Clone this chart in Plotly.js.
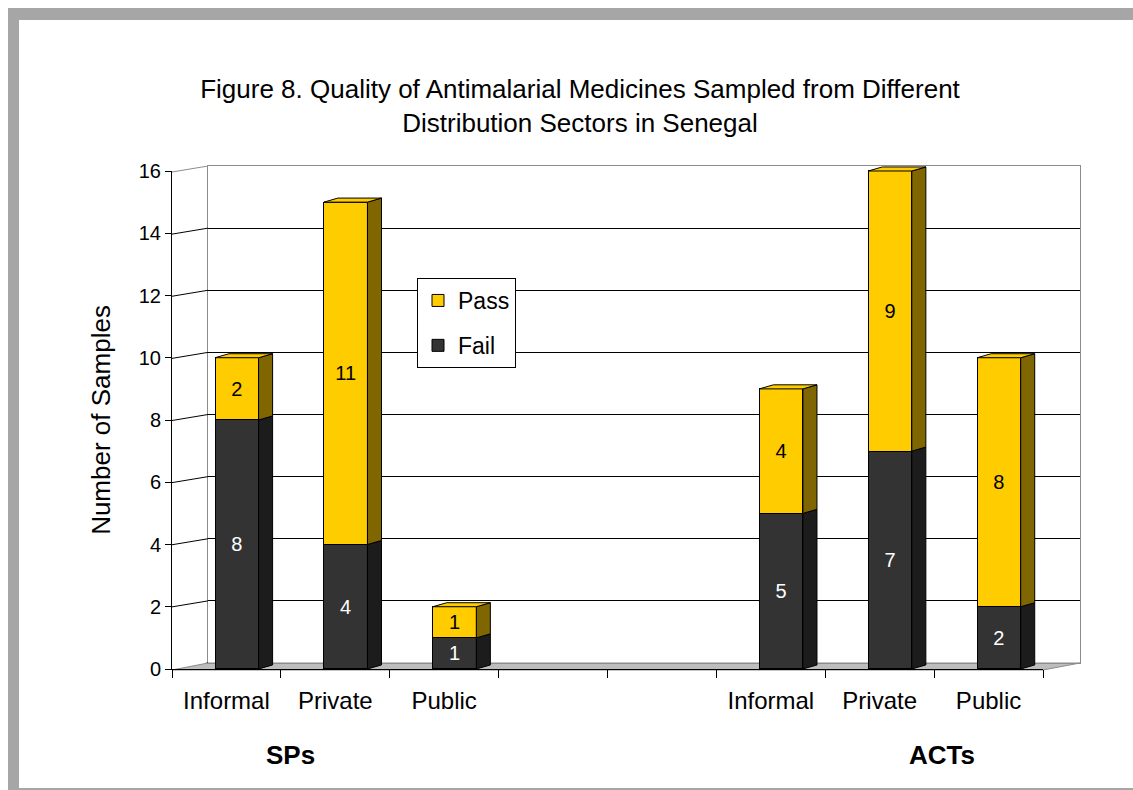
<!DOCTYPE html>
<html>
<head>
<meta charset="utf-8">
<script src="https://cdn.plot.ly/plotly-3.0.1.min.js"></script>
<style>html,body{margin:0;padding:0;background:#fff;}#chart{width:1133px;height:790px;}</style>
</head>
<body>
<div id="chart"></div>
<script>
// ---- data ----
const categories = ['Informal', 'Private', 'Public', '', '', 'Informal', 'Private', 'Public'];
const barPositions = [0, 1, 2, 5, 6, 7];
const failValues = [8, 4, 1, 5, 7, 2];
const passValues = [2, 11, 1, 4, 9, 8];
const yTickValues = [0, 2, 4, 6, 8, 10, 12, 14, 16];
const groupLabels = ['SPs', 'ACTs'];

// ---- geometry / style ----
const W = 1133, H = 790;
const fx = px => px / W;
const fy = py => 1 - py / H;
const FONT = 'Liberation Sans, Arial, sans-serif';
const YELLOW = '#ffcc00', YELLOW_SIDE = '#7f6600';
const DARK = '#333333', DARK_SIDE = '#1c1c1c';
const BAR_W = 0.4, BAR_OFF = -0.105, DX = 0.129, DY = 0.13;
const FRONT_BOTTOM = 669, FRONT_TOP = 171;             // px for 0 and 16 on the front axis
const UNIT = (FRONT_BOTTOM - FRONT_TOP) / 16;
const BACK_BOTTOM = 663, BACK_TOP = 166;

function sidePolys(bases, tops) {
  const xs = [], ys = [];
  barPositions.forEach((p, i) => {
    const xL = p + BAR_OFF + BAR_W, xR = xL + DX;
    const b = bases[i], t = tops[i];
    xs.push(xL, xR, xR, xL, xL, null);
    ys.push(b, b + DY, t + DY, t, b, null);
  });
  return {xs, ys};
}
function topPolys(tops) {
  const xs = [], ys = [];
  barPositions.forEach((p, i) => {
    const xF = p + BAR_OFF, xL = xF + BAR_W, t = tops[i];
    xs.push(xF, xF + DX, xL + DX, xL, xF, null);
    ys.push(t, t + DY, t + DY, t, t, null);
  });
  return {xs, ys};
}
const zeros = failValues.map(() => 0);
const totals = failValues.map((f, i) => f + passValues[i]);
const failSide = sidePolys(zeros, failValues);
const passSide = sidePolys(failValues, totals);
const topFace = topPolys(totals);

const traces = [
  // keep back-wall subplot alive
  {type: 'scatter', x: [], y: [], xaxis: 'x', yaxis: 'y', showlegend: false, hoverinfo: 'skip'},
  // front axis subplot
  {type: 'scatter', x: [], y: [], xaxis: 'x2', yaxis: 'y2', showlegend: false, hoverinfo: 'skip'},
  {
    type: 'bar', name: 'Fail', legendgroup: 'fail', legendrank: 2, x: barPositions, y: failValues,
    xaxis: 'x2', yaxis: 'y4', width: BAR_W, offset: BAR_OFF,
    marker: {color: DARK, line: {color: '#000', width: 1}},
    text: failValues.map(String), textposition: 'inside', insidetextanchor: 'middle',
    textfont: {color: '#ffffff', size: 20, family: FONT}, constraintext: 'none'
  },
  {
    type: 'bar', name: 'Pass', legendgroup: 'pass', legendrank: 1, x: barPositions, y: passValues,
    xaxis: 'x2', yaxis: 'y4', width: BAR_W, offset: BAR_OFF,
    marker: {color: YELLOW, line: {color: '#000', width: 1}},
    text: passValues.map(String), textposition: 'inside', insidetextanchor: 'middle',
    textfont: {color: '#000000', size: 20, family: FONT}, constraintext: 'none'
  },
  {type: 'scatter', mode: 'lines', x: failSide.xs, y: failSide.ys, xaxis: 'x2', yaxis: 'y4',
   fill: 'toself', fillcolor: DARK_SIDE, line: {color: '#000', width: 1}, showlegend: false, hoverinfo: 'skip'},
  {type: 'scatter', mode: 'lines', x: passSide.xs, y: passSide.ys, xaxis: 'x2', yaxis: 'y4',
   fill: 'toself', fillcolor: YELLOW_SIDE, line: {color: '#000', width: 1}, showlegend: false, hoverinfo: 'skip'},
  {type: 'scatter', mode: 'lines', x: topFace.xs, y: topFace.ys, xaxis: 'x2', yaxis: 'y4',
   fill: 'toself', fillcolor: YELLOW, line: {color: '#000', width: 1}, showlegend: false, hoverinfo: 'skip'}
];

const shapes = [
  // frame
  {type: 'rect', xref: 'paper', yref: 'paper', x0: fx(8), x1: 1, y0: fy(20), y1: fy(8), fillcolor: '#a6a6a6', line: {width: 0}, layer: 'below'},
  {type: 'rect', xref: 'paper', yref: 'paper', x0: fx(8), x1: fx(19), y0: 0, y1: fy(8), fillcolor: '#a6a6a6', line: {width: 0}, layer: 'below'},
  {type: 'rect', xref: 'paper', yref: 'paper', x0: fx(8), x1: 1, y0: 0, y1: fy(788), fillcolor: '#a6a6a6', line: {width: 0}, layer: 'below'},
  // floor
  {type: 'path', xref: 'paper', yref: 'paper', layer: 'below',
   path: `M ${fx(172)} ${fy(670)} L ${fx(1043)} ${fy(670)} L ${fx(1080)} ${fy(663)} L ${fx(208)} ${fy(663)} Z`,
   fillcolor: '#bdbdbd', line: {color: '#8c8c8c', width: 1}}
];
// slanted connectors from front axis ticks to the back wall
const backShift = (FRONT_BOTTOM - BACK_BOTTOM) / ((BACK_BOTTOM - BACK_TOP) / 16);
yTickValues.forEach(v => {
  shapes.push({type: 'line', xref: 'paper', yref: 'y', x0: fx(172), x1: fx(208), y0: v - backShift, y1: v,
    line: {color: v === 16 ? '#8c8c8c' : '#000', width: 1}});
});

const annotations = [
  {text: '<b>' + groupLabels[0] + '</b>', xref: 'paper', yref: 'paper', x: fx(290), y: fy(755),
   xanchor: 'center', yanchor: 'middle', showarrow: false,
   font: {family: FONT, size: 26, color: '#000'}},
  {text: '<b>' + groupLabels[1] + '</b>', xref: 'paper', yref: 'paper', x: fx(942), y: fy(755),
   xanchor: 'center', yanchor: 'middle', showarrow: false,
   font: {family: FONT, size: 26, color: '#000'}}
];

const layout = {
  width: W, height: H, autosize: false,
  margin: {l: 0, r: 0, t: 0, b: 0, pad: 0},
  paper_bgcolor: '#ffffff', plot_bgcolor: 'rgba(0,0,0,0)',
  font: {family: FONT, color: '#000'},
  hovermode: false,
  barmode: 'stack',
  title: {
    text: 'Figure 8. Quality of Antimalarial Medicines Sampled from Different<br>Distribution Sectors in Senegal',
    x: fx(580), xanchor: 'center', y: fy(98), yanchor: 'middle',
    font: {family: FONT, size: 26, color: '#000'}
  },
  // back wall
  xaxis: {domain: [fx(208), fx(1080)], range: [0, 1], showgrid: false, zeroline: false, showticklabels: false,
    ticks: '', showline: true, linecolor: '#8c8c8c', mirror: true, anchor: 'y', fixedrange: true},
  yaxis: {domain: [fy(BACK_BOTTOM), fy(BACK_TOP)], range: [0, 16], tickmode: 'array',
    tickvals: yTickValues.filter(v => v > 0 && v < 16), showgrid: true, gridcolor: '#000', gridwidth: 1,
    zeroline: false, showticklabels: false, ticks: '', showline: true, linecolor: '#8c8c8c', mirror: true, anchor: 'x', fixedrange: true},
  // front axes
  xaxis2: {domain: [fx(172), fx(1043)], range: [-0.5, 7.5], anchor: 'y2', tickmode: 'array',
    tickvals: categories.map((c, i) => i), ticktext: categories, ticks: 'outside', ticklen: 10,
    tickcolor: 'rgba(0,0,0,0)', showgrid: false, zeroline: false, showline: true, linecolor: '#000', linewidth: 1,
    tickfont: {family: FONT, size: 24, color: '#000'},
    minor: {tickmode: 'linear', tick0: -0.5, dtick: 1, ticks: 'outside', ticklen: 8, tickcolor: '#000', tickwidth: 1, showgrid: false},
    fixedrange: true},
  yaxis2: {domain: [fy(FRONT_BOTTOM), fy(FRONT_TOP)], range: [0, 16], anchor: 'x2', tickmode: 'array',
    tickvals: yTickValues, ticks: 'outside', ticklen: 6, tickcolor: '#000', showgrid: false, zeroline: false,
    showline: true, linecolor: '#000', linewidth: 1, tickfont: {family: FONT, size: 20, color: '#000'},
    title: {text: 'Number of Samples', font: {family: FONT, size: 26, color: '#000'}, standoff: 20},
    fixedrange: true},
  yaxis4: {domain: [fy(FRONT_BOTTOM), fy(FRONT_BOTTOM - 16.5 * UNIT)], range: [0, 16.5], anchor: 'x2',
    visible: false, showgrid: false, zeroline: false, fixedrange: true},
  legend: {x: fx(417), y: fy(278), xanchor: 'left', yanchor: 'top', bgcolor: '#ffffff', bordercolor: '#000', borderwidth: 1,
    font: {family: FONT, size: 23, color: '#000'}, traceorder: 'grouped', tracegroupgap: 12},
  shapes: shapes,
  annotations: annotations
};

Plotly.newPlot('chart', traces, layout, {displayModeBar: false, staticPlot: true});
</script>
</body>
</html>
